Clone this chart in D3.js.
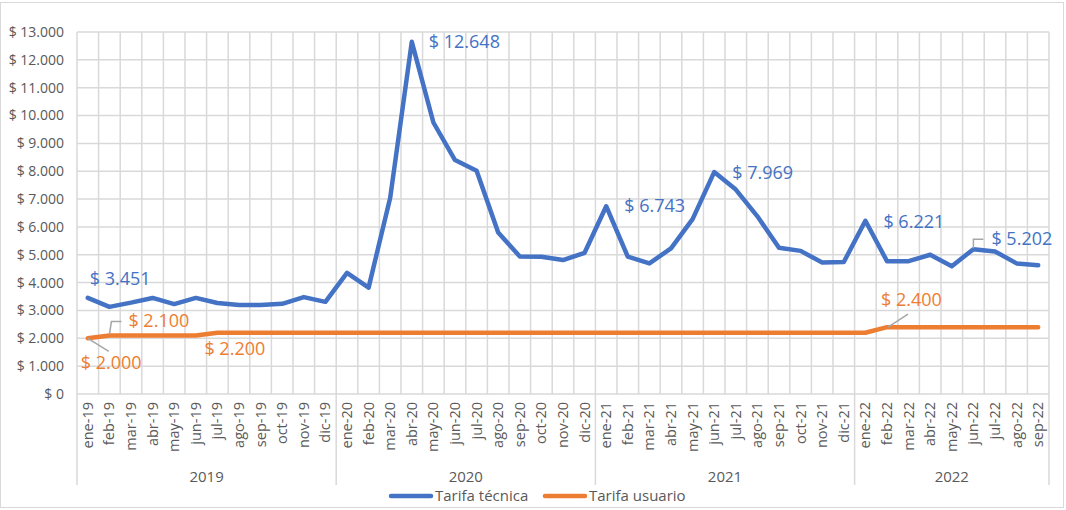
<!DOCTYPE html>
<html>
<head>
<meta charset="utf-8">
<script src="https://cdn.jsdelivr.net/npm/d3@7"></script>
<style>
  html, body { margin: 0; padding: 0; background: #fff; }
  svg { display: block; }
  text { font-family: "Open Sans", "Noto Sans", sans-serif; }
</style>
</head>
<body>
<svg id="chart" width="1066" height="510"></svg>
<script>
const months = ["ene-19","feb-19","mar-19","abr-19","may-19","jun-19","jul-19","ago-19","sep-19","oct-19","nov-19","dic-19",
  "ene-20","feb-20","mar-20","abr-20","may-20","jun-20","jul-20","ago-20","sep-20","oct-20","nov-20","dic-20",
  "ene-21","feb-21","mar-21","abr-21","may-21","jun-21","jul-21","ago-21","sep-21","oct-21","nov-21","dic-21",
  "ene-22","feb-22","mar-22","abr-22","may-22","jun-22","jul-22","ago-22","sep-22"];
const years = ["2019","2020","2021","2022"];
const tarifaTecnica = [3451,3130,3280,3450,3230,3450,3270,3200,3200,3240,3480,3310,
  4350,3820,7050,12648,9750,8400,8020,5800,4940,4930,4810,5070,
  6743,4930,4690,5230,6280,7969,7340,6380,5250,5140,4720,4740,
  6221,4770,4770,5000,4590,5202,5120,4690,4620];
const tarifaUsuario = [2000,2100,2100,2100,2100,2100,2200,2200,2200,2200,2200,2200,
  2200,2200,2200,2200,2200,2200,2200,2200,2200,2200,2200,2200,
  2200,2200,2200,2200,2200,2200,2200,2200,2200,2200,2200,2200,
  2200,2400,2400,2400,2400,2400,2400,2400,2400];
const yTicks = [0,1000,2000,3000,4000,5000,6000,7000,8000,9000,10000,11000,12000,13000];
const seriesNames = ["Tarifa técnica","Tarifa usuario"];
const colors = ["#4472C4","#ED7D31"];

// labelled points: series, index, offset, leader type
const labels = [
  {s:0, i:0,  dx:2,   dy:-13},
  {s:0, i:15, dx:17,  dy:6},
  {s:0, i:24, dx:18,  dy:6},
  {s:0, i:29, dx:18,  dy:7},
  {s:0, i:36, dx:18,  dy:7},
  {s:0, i:41, dx:18,  dy:-4, leader:"elbow"},
  {s:1, i:0,  dx:-7,  dy:31, leader:"diag"},
  {s:1, i:1,  dx:19,  dy:-9, leader:"elbow2"},
  {s:1, i:6,  dx:-13, dy:22},
  {s:1, i:37, dx:-6,  dy:-21, leader:"diag2"}
];

const svg = d3.select("#chart");
const L = 77, R = 1049, T = 32, B = 394, LB = 485;

const x = d3.scaleBand().domain(months).range([L, R]).padding(0);
const y = d3.scaleLinear().domain([0, 13000]).range([B, T]);
const cx = m => x(m) + x.bandwidth() / 2;
const fmt = v => "$ " + d3.format(",")(v).replace(/,/g, ".");

// outer border
svg.append("rect").attr("x", 0.5).attr("y", 2.5).attr("width", 1063).attr("height", 505)
  .attr("fill", "none").attr("stroke", "#d9d9d9").attr("stroke-width", 1);

const grid = svg.append("g").attr("stroke", "#d9d9d9").attr("stroke-width", 1.5);
grid.selectAll("line.h").data(yTicks).join("line")
  .attr("x1", L).attr("x2", R).attr("y1", d => y(d)).attr("y2", d => y(d));
const bounds = months.map(m => x(m)).concat([R]);
grid.selectAll("line.v").data(bounds).join("line")
  .attr("x1", d => d).attr("x2", d => d).attr("y1", T).attr("y2", B);
const yearBounds = [0, 12, 24, 36].map(i => x(months[i])).concat([R]);
grid.selectAll("line.yr").data(yearBounds).join("line")
  .attr("x1", d => d).attr("x2", d => d).attr("y1", B).attr("y2", LB);

// y axis labels
svg.append("g").selectAll("text").data(yTicks).join("text")
  .attr("x", 64).attr("y", d => y(d)).attr("dy", "0.35em")
  .attr("text-anchor", "end").attr("font-size", 14).attr("fill", "#595959")
  .text(d => fmt(d));

// month labels
svg.append("g").selectAll("text").data(months).join("text")
  .attr("transform", d => `translate(${cx(d)},402) rotate(-90)`)
  .attr("dy", "0.35em").attr("text-anchor", "end")
  .attr("font-size", 14.5).attr("fill", "#595959")
  .text(d => d);

// year labels
svg.append("g").selectAll("text").data(years).join("text")
  .attr("x", (d, k) => (yearBounds[k] + yearBounds[k + 1]) / 2)
  .attr("y", 482).attr("text-anchor", "middle")
  .attr("font-size", 15).attr("fill", "#595959")
  .text(d => d);

// lines
const allSeries = [tarifaTecnica, tarifaUsuario];
const line = d3.line().x((d, i) => cx(months[i])).y(d => y(d));
allSeries.forEach((s, k) => {
  svg.append("path").datum(s).attr("d", line)
    .attr("fill", "none").attr("stroke", colors[k]).attr("stroke-width", 4.5)
    .attr("stroke-linejoin", "round").attr("stroke-linecap", "round");
});

// leader lines and labels
const lg = svg.append("g").attr("stroke", "#a6a6a6").attr("stroke-width", 1.5).attr("fill", "none");
labels.forEach(l => {
  const v = allSeries[l.s][l.i];
  const px = cx(months[l.i]), py = y(v);
  if (l.leader === "elbow") {
    lg.append("path").attr("d", `M${px},${py - 1} L${px},${py - 10} L${px + 10},${py - 10}`);
  } else if (l.leader === "elbow2") {
    lg.append("path").attr("d", `M${px},${py - 1} L${px + 2},${py - 14} L${px + 12},${py - 14}`);
  } else if (l.leader === "diag") {
    lg.append("path").attr("d", `M${px},${py} L${px + 21},${py + 13}`);
  } else if (l.leader === "diag2") {
    lg.append("path").attr("d", `M${px + 1},${py} L${px + 21},${py - 13}`);
  }
  svg.append("text").attr("x", px + l.dx).attr("y", py + l.dy)
    .attr("font-size", 18).attr("fill", colors[l.s])
    .attr("font-weight", 500)
    .text(fmt(v));
});

// legend
const legendX = [391, 545];
seriesNames.forEach((n, k) => {
  svg.append("line").attr("x1", legendX[k]).attr("x2", legendX[k] + 40)
    .attr("y1", 496).attr("y2", 496).attr("stroke", colors[k]).attr("stroke-width", 4.5)
    .attr("stroke-linecap", "round");
  svg.append("text").attr("x", legendX[k] + 44).attr("y", 501)
    .attr("font-size", 15).attr("fill", "#595959").text(n);
});
</script>
</body>
</html>
